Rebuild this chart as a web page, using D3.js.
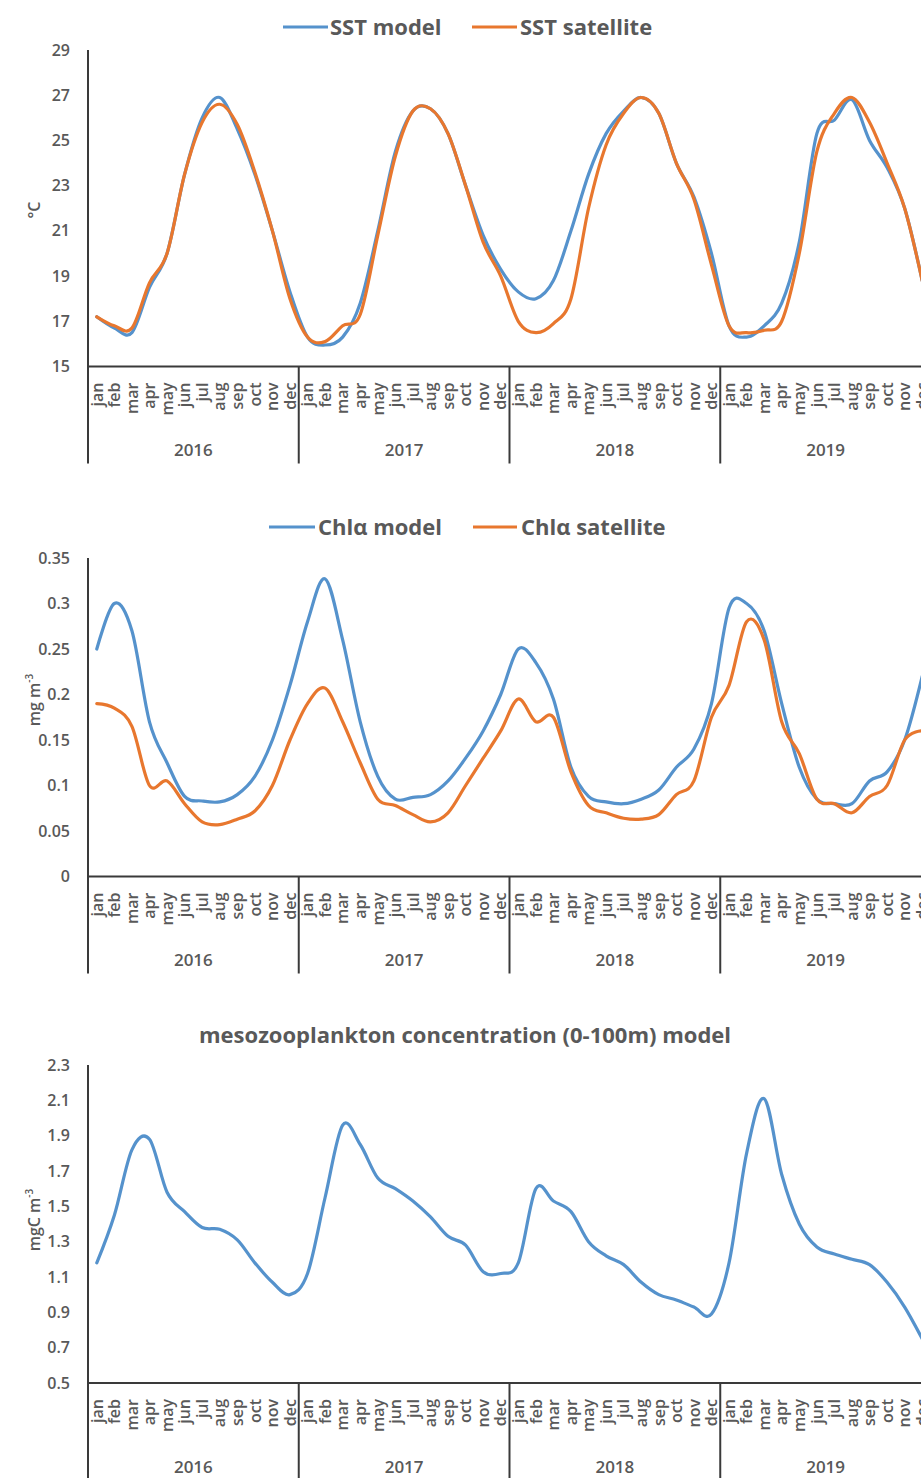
<!DOCTYPE html>
<html>
<head>
<meta charset="utf-8">
<script src="https://cdn.jsdelivr.net/npm/d3@7"></script>
<style>
  html, body { margin: 0; padding: 0; background: #fff; }
  svg { display: block; }
  text { font-family: "Open Sans", "Noto Sans", sans-serif; fill: #595959; font-weight: 600; }
</style>
</head>
<body>
<svg id="chart" width="921" height="1478"></svg>
<script>
// ---------------- DATA ----------------
const months = ["jan","feb","mar","apr","may","jun","jul","aug","sep","oct","nov","dec"];
const years = ["2016","2017","2018","2019"];

const sstTicks = [15,17,19,21,23,25,27,29];
const chlTicks = [0,0.05,0.1,0.15,0.2,0.25,0.3,0.35];
const mesoTicks = [0.5,0.7,0.9,1.1,1.3,1.5,1.7,1.9,2.1,2.3];

const sstModel = [
  17.2,16.7,16.5,18.5,20.0,23.5,26.0,26.9,25.5,23.5,21.0,18.3,
  16.3,15.95,16.3,17.8,21.0,24.5,26.3,26.4,25.3,23.0,20.8,19.3,
  18.3,18.0,18.8,21.0,23.5,25.3,26.3,26.9,26.2,24.0,22.5,20.0,
  16.8,16.3,16.8,17.8,20.5,25.3,25.9,26.8,25.0,23.8,22.0,18.8
];
const sstSatellite = [
  17.2,16.8,16.7,18.7,20.0,23.5,25.8,26.6,25.7,23.6,21.0,18.0,
  16.3,16.1,16.8,17.3,20.8,24.3,26.3,26.4,25.3,23.0,20.5,19.0,
  17.0,16.5,16.9,18.0,22.0,24.8,26.2,26.9,26.2,24.0,22.4,19.5,
  16.8,16.5,16.6,17.0,20.0,24.5,26.2,26.9,25.8,24.0,22.0,18.8
];
const chlModel = [
  0.25,0.30,0.27,0.17,0.125,0.088,0.083,0.082,0.09,0.11,0.15,0.21,
  0.28,0.327,0.26,0.17,0.11,0.085,0.087,0.09,0.105,0.13,0.16,0.20,
  0.25,0.235,0.195,0.12,0.088,0.082,0.08,0.085,0.095,0.12,0.14,0.19,
  0.295,0.30,0.27,0.19,0.12,0.085,0.08,0.08,0.105,0.115,0.15,0.22
];
const chlSatellite = [
  0.19,0.185,0.165,0.10,0.105,0.08,0.06,0.057,0.063,0.072,0.10,0.15,
  0.19,0.207,0.17,0.125,0.085,0.078,0.068,0.06,0.07,0.10,0.13,0.16,
  0.195,0.17,0.175,0.115,0.078,0.07,0.064,0.063,0.068,0.09,0.105,0.175,
  0.21,0.28,0.26,0.17,0.135,0.085,0.08,0.07,0.088,0.10,0.15,0.16
];
const mesoModel = [
  1.18,1.45,1.82,1.88,1.58,1.47,1.38,1.37,1.31,1.18,1.07,1.00,
  1.12,1.55,1.96,1.85,1.66,1.60,1.53,1.44,1.33,1.28,1.13,1.12,
  1.18,1.60,1.53,1.47,1.30,1.22,1.17,1.07,1.00,0.97,0.93,0.89,
  1.18,1.80,2.11,1.68,1.40,1.27,1.23,1.20,1.17,1.07,0.93,0.75
];

// ---------------- CHART ----------------
const svg = d3.select("#chart");
const BLUE = "#5592CC", ORANGE = "#E8772E", AXIS = "#3a3a3a";
const categories = d3.range(years.length * months.length);
const x = d3.scaleBand().domain(categories).range([88, 931]).padding(0);
const cx = i => x(i) + x.bandwidth() / 2;
const curve = d3.curveCatmullRom.alpha(0);

const panels = [
  { ticks: sstTicks, domain: [15, 29], range: [366.5, 50],
    series: [{ v: sstModel, c: BLUE, name: "SST model" }, { v: sstSatellite, c: ORANGE, name: "SST satellite" }],
    legend: [{ x1: 283, x2: 328, tx: 330 }, { x1: 472, x2: 517, tx: 520 }], legendY: 27,
    ytitle: [{ t: "\u00B0C" }], ytitleY: 210 },
  { ticks: chlTicks, domain: [0, 0.35], range: [876.5, 558],
    series: [{ v: chlModel, c: BLUE, name: "Chl\u03B1 model" }, { v: chlSatellite, c: ORANGE, name: "Chl\u03B1 satellite" }],
    legend: [{ x1: 269, x2: 315, tx: 318 }, { x1: 473, x2: 517, tx: 521 }], legendY: 527,
    ytitle: [{ t: "mg m" }, { t: "-3", sup: true }], ytitleY: 700 },
  { ticks: mesoTicks, domain: [0.5, 2.3], range: [1383, 1065],
    series: [{ v: mesoModel, c: BLUE, name: null }],
    title: "mesozooplankton concentration (0-100m) model", titleY: 1035,
    ytitle: [{ t: "mgC m" }, { t: "-3", sup: true }], ytitleY: 1220 }
];

panels.forEach(p => {
  const g = svg.append("g");
  const y = d3.scaleLinear().domain(p.domain).range(p.range);
  const base = p.range[0];

  // Y axis labels
  const yAxis = d3.axisLeft(y).tickValues(p.ticks).tickSize(0).tickPadding(18).tickFormat(d => String(d));
  const ya = g.append("g").attr("transform", "translate(88,0)").call(yAxis);
  ya.select(".domain").remove();
  ya.selectAll("text").style("font-size", "16px").style("font-family", null).attr("fill", "#595959");

  // X axis (months)
  const xAxis = d3.axisBottom(x).tickSize(0).tickFormat(i => months[i % 12]);
  const xa = g.append("g").attr("transform", `translate(0,${base})`).call(xAxis);
  xa.select(".domain").remove();
  xa.selectAll("text")
    .style("font-size", "16px").style("font-family", null).attr("fill", "#595959")
    .attr("transform", "rotate(-90)")
    .attr("text-anchor", "end")
    .attr("x", -16).attr("y", 0).attr("dy", "0.36em");

  // axis lines
  g.append("line").attr("x1", 88).attr("x2", 931).attr("y1", base).attr("y2", base)
    .attr("stroke", AXIS).attr("stroke-width", 2);
  g.append("line").attr("x1", 88).attr("x2", 88).attr("y1", p.range[1]).attr("y2", base + 97)
    .attr("stroke", AXIS).attr("stroke-width", 2);
  // year dividers
  years.forEach((yr, k) => {
    if (k > 0) {
      const xb = x(k * 12);
      g.append("line").attr("x1", xb).attr("x2", xb).attr("y1", base).attr("y2", base + 97)
        .attr("stroke", AXIS).attr("stroke-width", 2);
    }
    const xm = (x(k * 12) + x(k * 12 + 11) + x.bandwidth()) / 2;
    g.append("text").attr("x", xm).attr("y", base + 84).attr("dy", "0.35em")
      .attr("text-anchor", "middle").style("font-size", "17px").text(yr);
  });

  // lines
  const line = d3.line().x((d, i) => cx(i)).y(d => y(d)).curve(curve);
  p.series.forEach(s => {
    g.append("path").datum(s.v).attr("d", line).attr("fill", "none")
      .attr("stroke", s.c).attr("stroke-width", 3.2).attr("stroke-linejoin", "round").attr("stroke-linecap", "round");
  });

  // legend
  if (p.legend) {
    p.series.forEach((s, k) => {
      const L = p.legend[k];
      g.append("line").attr("x1", L.x1).attr("x2", L.x2).attr("y1", p.legendY).attr("y2", p.legendY)
        .attr("stroke", s.c).attr("stroke-width", 3.2);
      g.append("text").attr("x", L.tx).attr("y", p.legendY).attr("dy", "0.36em")
        .style("font-size", "22px").style("font-weight", 700).text(s.name);
    });
  }
  if (p.title) {
    g.append("text").attr("x", 465).attr("y", p.titleY).attr("dy", "0.36em").attr("text-anchor", "middle")
      .style("font-size", "22px").style("font-weight", 700).text(p.title);
  }

  // y title
  const yt = g.append("text").attr("transform", `translate(40,${p.ytitleY}) rotate(-90)`)
    .attr("text-anchor", "middle").style("font-size", "16px");
  p.ytitle.forEach(part => {
    const ts = yt.append("tspan").text(part.t);
    if (part.sup) ts.attr("baseline-shift", "super").style("font-size", "10px");
  });
});
</script>
</body>
</html>
